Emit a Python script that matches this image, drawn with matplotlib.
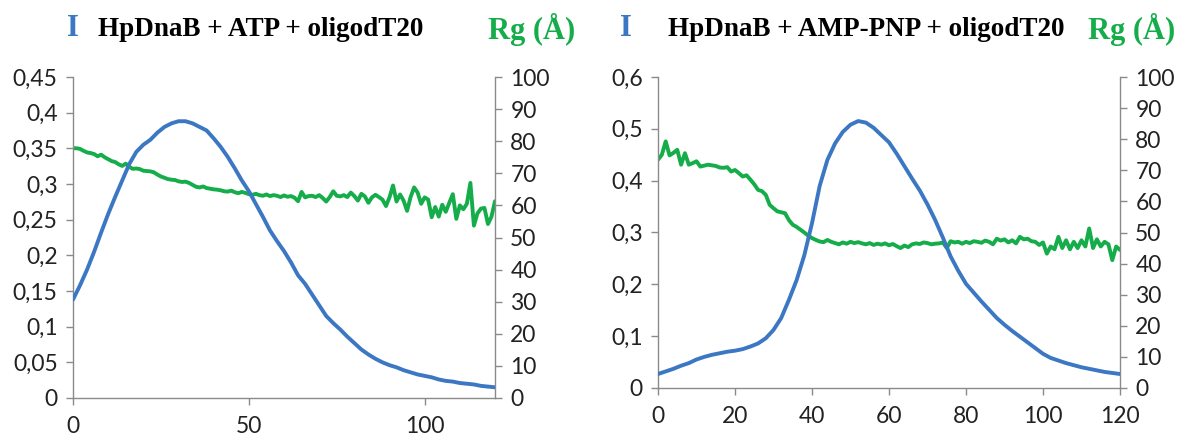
import matplotlib
matplotlib.use("Agg")
import matplotlib.pyplot as plt
from matplotlib.ticker import FuncFormatter, MultipleLocator

# ---------------- data ----------------
x_blue = list(range(0, 121, 2))
x_green = list(range(0, 121))

# Panel A: HpDnaB + ATP + oligodT20
I_atp = [0.138, 0.158, 0.180, 0.205, 0.232, 0.258, 0.282, 0.305, 0.328, 0.345,
         0.355, 0.362, 0.372, 0.380, 0.385, 0.388, 0.388, 0.385, 0.380, 0.375,
         0.364, 0.352, 0.338, 0.322, 0.305, 0.290, 0.272, 0.254, 0.235, 0.220,
         0.206, 0.190, 0.172, 0.160, 0.145, 0.130, 0.115, 0.105, 0.096, 0.086,
         0.077, 0.068, 0.061, 0.055, 0.050, 0.046, 0.043, 0.039, 0.036, 0.033,
         0.031, 0.029, 0.026, 0.024, 0.023, 0.021, 0.020, 0.019, 0.017, 0.016,
         0.015]
Rg_atp = [77.8, 77.8, 77.6, 77.0, 76.5, 76.3, 76.0, 75.3, 75.8, 75.0, 74.4,
          73.8, 73.5, 72.8, 72.3, 73.0, 72.0, 71.4, 71.5, 71.3, 70.8,
          70.7, 70.6, 70.3, 69.6, 69.0, 68.6, 68.2, 68.0, 67.9, 67.5,
          67.3, 67.4, 67.0, 66.4, 65.8, 65.6, 65.9, 65.4, 65.2, 65.0,
          64.9, 64.7, 64.4, 64.3, 64.6, 64.1, 63.8, 64.2, 63.9, 63.5,
          63.3, 63.6, 63.2, 63.0, 63.4, 62.9, 63.2, 63.0, 62.6, 63.1,
          62.7, 62.9, 62.4, 61.3, 64.2, 62.5, 62.9, 63.0, 62.6, 63.2,
          62.3, 61.2, 62.6, 64.4, 63.0, 62.8, 63.2, 62.6, 64.0, 62.9,
          61.5, 63.6, 62.8, 60.8, 62.5, 63.3, 62.6, 61.8, 59.8, 62.5,
          66.2, 61.2, 63.4, 61.5, 58.3, 62.6, 65.6, 64.0, 60.5, 62.5,
          61.8, 56.3, 59.5, 56.5, 60.2, 58.0, 60.8, 63.5, 55.8, 60.0,
          58.8, 60.5, 67.0, 53.7, 57.5, 59.0, 59.2, 54.2, 56.5, 61.3]

# Panel B: HpDnaB + AMP-PNP + oligodT20
I_amppnp = [0.027, 0.032, 0.037, 0.043, 0.048, 0.055, 0.060, 0.064, 0.067, 0.070,
            0.072, 0.075, 0.080, 0.086, 0.096, 0.112, 0.135, 0.170, 0.208, 0.256,
            0.318, 0.390, 0.440, 0.472, 0.494, 0.508, 0.515, 0.512, 0.502, 0.488,
            0.474, 0.452, 0.428, 0.404, 0.381, 0.354, 0.324, 0.290, 0.254, 0.226,
            0.201, 0.184, 0.167, 0.151, 0.135, 0.122, 0.110, 0.099, 0.088, 0.077,
            0.066, 0.058, 0.053, 0.048, 0.044, 0.040, 0.037, 0.034, 0.031, 0.029,
            0.027]
Rg_amppnp = [73.4, 75.0, 79.3, 74.8, 75.6, 76.6, 71.8, 75.5, 71.8, 72.3, 72.9,
             71.2, 71.5, 71.8, 71.6, 71.4, 70.9, 70.8, 71.0, 69.6, 70.1,
             69.1, 68.0, 68.4, 67.0, 65.5, 63.7, 63.3, 62.1, 58.9, 57.8,
             56.8, 56.5, 56.2, 54.0, 52.5, 51.8, 50.9, 50.0, 49.0, 48.2,
             47.6, 47.1, 46.9, 47.6, 47.0, 46.6, 46.2, 46.8, 46.4, 47.0,
             46.6, 46.9, 46.5, 46.2, 46.6, 46.0, 46.4, 46.1, 46.5, 45.9,
             46.3, 45.6, 45.0, 45.8, 45.3, 46.2, 46.5, 46.3, 46.8, 46.6,
             46.2, 46.4, 46.5, 46.8, 45.0, 47.2, 46.8, 47.0, 46.4, 47.0,
             46.6, 47.2, 47.0, 46.7, 47.4, 47.0, 46.2, 48.0, 47.4, 47.8,
             46.8, 47.5, 46.5, 48.6, 47.8, 48.0, 47.2, 47.0, 46.0, 46.8,
             43.2, 45.5, 44.6, 48.6, 45.0, 47.5, 44.6, 47.0, 45.0, 47.5,
             45.5, 51.3, 45.0, 47.8, 45.5, 47.0, 46.2, 41.1, 45.5, 44.4]

titles = ["HpDnaB + ATP + oligodT20", "HpDnaB + AMP-PNP + oligodT20"]

# ---------------- style ----------------
BLUE = "#3b77c2"
GREEN = "#14ad4a"
GRAY = "#8a8a8a"
TICKFONT = "Lato"
TICKSIZE = 16.5
W, H = 1183, 437

fig = plt.figure(figsize=(W / 100, H / 100), dpi=100)

def px_axes(x0, x1, ytop, ybot):
    return fig.add_axes([x0 / W, 1 - ybot / H, (x1 - x0) / W, (ybot - ytop) / H])

comma = FuncFormatter(lambda v, p: ("%g" % round(v, 3)).replace(".", ","))

def style(ax):
    ax.spines["top"].set_visible(False)
    for s in ["left", "right", "bottom"]:
        ax.spines[s].set_color(GRAY)
        ax.spines[s].set_linewidth(1.0)
    ax.tick_params(direction="out", length=5, width=1, color=GRAY,
                   labelsize=TICKSIZE, labelcolor="#222222", pad=6)

panels = [
    dict(box=(73, 495, 77, 398), I=I_atp, Rg=Rg_atp, ymax=0.45, ystep=0.05, xstep=50),
    dict(box=(658, 1120, 77, 388), I=I_amppnp, Rg=Rg_amppnp, ymax=0.6, ystep=0.1, xstep=20),
]

for p in panels:
    ax = px_axes(*p["box"])
    ax2 = ax.twinx()
    ax.plot(x_blue, p["I"], color=BLUE, lw=2.8, solid_capstyle="round", zorder=3)
    ax2.plot(x_green, p["Rg"], color=GREEN, lw=2.8, solid_capstyle="round", zorder=2)
    ax.set_zorder(ax2.get_zorder() + 1)
    ax.patch.set_visible(False)
    ax.set_xlim(0, 120)
    ax.set_ylim(0, p["ymax"])
    ax.yaxis.set_major_locator(MultipleLocator(p["ystep"]))
    ax.xaxis.set_major_locator(MultipleLocator(p["xstep"]))
    ax.yaxis.set_major_formatter(comma)
    ax2.set_ylim(0, 100)
    ax2.yaxis.set_major_locator(MultipleLocator(10))
    style(ax)
    style(ax2)
    ax2.spines["left"].set_visible(False)
    ax2.spines["bottom"].set_visible(False)
    ax.spines["right"].set_visible(False)
    ax.tick_params(axis="x", pad=8)
    for lab in ax.get_xticklabels() + ax.get_yticklabels() + ax2.get_yticklabels():
        lab.set_fontfamily(TICKFONT)

def ftext(xpx, ypx, s, **kw):
    fig.text(xpx / W, 1 - ypx / H, s, ha="center", va="center",
             family="Liberation Serif", weight="bold", **kw)

ftext(73, 29, "I", color=BLUE, fontsize=22)
ftext(261, 29, titles[0], color="black", fontsize=19.5)
ftext(532, 29, "Rg (Å)", color=GREEN, fontsize=22)
ftext(626, 29, "I", color=BLUE, fontsize=22)
ftext(866, 29, titles[1], color="black", fontsize=19.5)
ftext(1132, 29, "Rg (Å)", color=GREEN, fontsize=22)

fig.savefig("out.png", dpi=100)
